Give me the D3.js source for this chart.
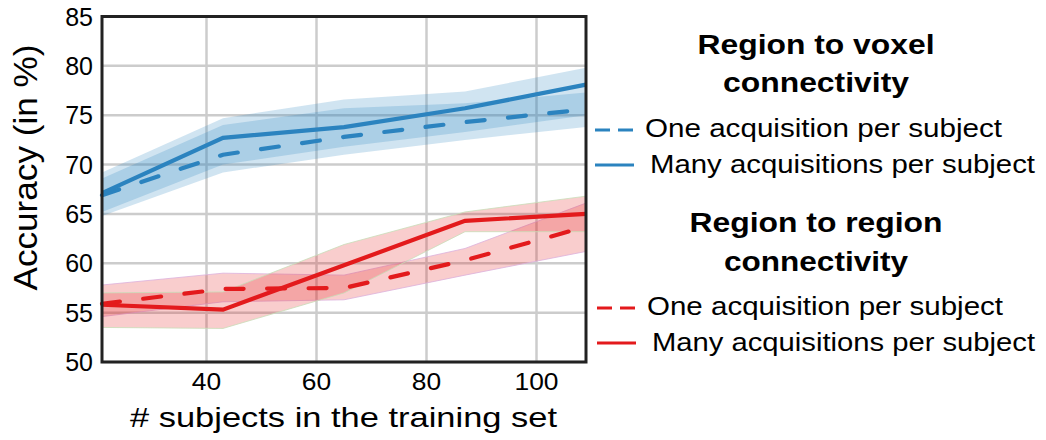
<!DOCTYPE html>
<html>
<head>
<meta charset="utf-8">
<script src="https://cdn.jsdelivr.net/npm/d3@7"></script>
<style>
  body { margin: 0; background: #fff; }
  svg { font-family: "Liberation Sans", Arial, sans-serif; }
</style>
</head>
<body>
<div id="chart"></div>
<script>
// data
const subjects = [21, 43, 65, 87, 109];
const yTicks = [50, 55, 60, 65, 70, 75, 80, 85];
const xTicks = [40, 60, 80, 100];

// region to voxel
const voxelOne = [66.9, 71.0, 72.8, 74.3, 75.6];
const voxelOneLow = [64.8, 69.2, 71.0, 72.5, 73.8];
const voxelOneHigh = [68.6, 74.0, 75.7, 76.2, 77.3];
const voxelMany = [67.1, 72.7, 73.8, 75.7, 78.1];
const voxelManyLow = [65.2, 70.0, 71.8, 73.3, 75.0];
const voxelManyHigh = [69.2, 74.7, 76.6, 77.4, 79.8];

// region to region
const regionOne = [55.9, 57.4, 57.5, 60.3, 63.7];
const regionOneLow = [54.6, 56.1, 56.3, 58.8, 61.2];
const regionOneHigh = [57.8, 59.0, 58.8, 61.5, 66.1];
const regionMany = [55.8, 55.3, 59.8, 64.3, 65.0];
const regionManyLow = [53.5, 53.4, 57.0, 63.2, 63.2];
const regionManyHigh = [57.0, 57.1, 61.9, 65.2, 66.8];

const blue = '#2b83bf';
const red = '#e31a1c';

const W = 1046, H = 440;
const margin = {top: 16.5, left: 102, right: 460, bottom: 78};

const svg = d3.select('#chart').append('svg')
    .attr('width', W)
    .attr('height', H);

const x = d3.scaleLinear().domain([21, 109]).range([margin.left, W - margin.right]);
const y = d3.scaleLinear().domain([50, 85]).range([H - margin.bottom, margin.top]);

// the original figure is a bit wider than its fonts, so text gets stretched sideways
function widen(sel, sx) {
  sel.each(function() {
    const len = this.getComputedTextLength();
    d3.select(this).attr('textLength', len * sx).attr('lengthAdjust', 'spacingAndGlyphs');
  });
}

// grid
svg.append('g').selectAll('line')
    .data(xTicks)
  .join('line')
    .attr('x1', d => x(d)).attr('x2', d => x(d))
    .attr('y1', y(85)).attr('y2', y(50))
    .attr('stroke', '#cccccc').attr('stroke-width', 2.5);
svg.append('g').selectAll('line')
    .data(yTicks)
  .join('line')
    .attr('x1', x(21)).attr('x2', x(109))
    .attr('y1', d => y(d)).attr('y2', d => y(d))
    .attr('stroke', '#cccccc').attr('stroke-width', 2.5);

const area = d3.area()
    .x(d => x(d[0]))
    .y0(d => y(d[1]))
    .y1(d => y(d[2]));
const line = d3.line()
    .x(d => x(d[0]))
    .y(d => y(d[1]));

function band(low, high, color, edge) {
  svg.append('path')
      .datum(subjects.map((s, i) => [s, low[i], high[i]]))
      .attr('d', area)
      .attr('fill', color)
      .attr('fill-opacity', 0.22)
      .attr('stroke', edge || 'none')
      .attr('stroke-width', 0.8);
}
function curve(vals, color, dashed) {
  svg.append('path')
      .datum(subjects.map((s, i) => [s, vals[i]]))
      .attr('d', line)
      .attr('fill', 'none')
      .attr('stroke', color)
      .attr('stroke-width', 4.2)
      .attr('stroke-linecap', dashed ? 'round' : 'butt')
      .attr('stroke-dasharray', dashed ? '18,23.5' : null);
}

band(voxelOneLow, voxelOneHigh, blue);
band(voxelManyLow, voxelManyHigh, blue);
band(regionOneLow, regionOneHigh, red, '#dcb0dc');
band(regionManyLow, regionManyHigh, red, '#c8ddb8');

curve(voxelOne, blue, true);
curve(voxelMany, blue, false);
curve(regionOne, red, true);
curve(regionMany, red, false);

// frame
svg.append('rect')
    .attr('x', x(21)).attr('y', y(85))
    .attr('width', x(109) - x(21))
    .attr('height', y(50) - y(85))
    .attr('fill', 'none')
    .attr('stroke', '#222').attr('stroke-width', 3);

// tick labels
svg.append('g').selectAll('text')
    .data(yTicks)
  .join('text')
    .attr('x', x(21) - 9)
    .attr('y', d => y(d))
    .attr('dy', '0.36em')
    .attr('text-anchor', 'end')
    .attr('font-size', 25)
    .text(d => d);
svg.append('g').selectAll('text')
    .data(xTicks)
  .join('text')
    .attr('x', d => x(d))
    .attr('y', 390)
    .attr('text-anchor', 'middle')
    .attr('font-size', 24)
    .text(d => d)
    .call(widen, 1.1);

svg.append('text')
    .attr('x', 343.5).attr('y', 427)
    .attr('text-anchor', 'middle')
    .attr('font-size', 28)
    .text('# subjects in the training set')
    .attr('textLength', 427)
    .attr('lengthAdjust', 'spacingAndGlyphs');
svg.append('text')
    .attr('transform', 'translate(37,167.5) rotate(-90)')
    .attr('text-anchor', 'middle')
    .attr('font-size', 34)
    .attr('textLength', 246)
    .attr('lengthAdjust', 'spacingAndGlyphs')
    .text('Accuracy (in %)');

// legend
const legendGroups = [
  {title: ['Region to voxel', 'connectivity'], widths: [237, 186], color: blue,
   ty: [54, 92], ly: [130, 165], tx: [645, 650], tw: [357, 385], lx: 595},
  {title: ['Region to region', 'connectivity'], widths: [253, 184], color: red,
   ty: [232, 271], ly: [308, 343], tx: [647, 652], tw: [356, 383], lx: 597}
];
legendGroups.forEach(g => {
  g.title.forEach((t, i) => {
    svg.append('text')
        .attr('x', 816).attr('y', g.ty[i])
        .attr('text-anchor', 'middle')
        .attr('font-size', 27)
        .attr('font-weight', 'bold')
        .attr('textLength', g.widths[i])
        .attr('lengthAdjust', 'spacingAndGlyphs')
        .text(t);
  });
  svg.append('line')
      .attr('x1', g.lx).attr('x2', g.lx + 39)
      .attr('y1', g.ly[0]).attr('y2', g.ly[0])
      .attr('stroke', g.color).attr('stroke-width', 3)
      .attr('stroke-dasharray', '15,8');
  svg.append('line')
      .attr('x1', g.lx).attr('x2', g.lx + 39)
      .attr('y1', g.ly[1]).attr('y2', g.ly[1])
      .attr('stroke', g.color).attr('stroke-width', 3);
  svg.append('text')
      .attr('x', g.tx[0]).attr('y', g.ly[0] + 7)
      .attr('font-size', 26)
      .attr('textLength', g.tw[0])
      .attr('lengthAdjust', 'spacingAndGlyphs')
      .text('One acquisition per subject');
  svg.append('text')
      .attr('x', g.tx[1]).attr('y', g.ly[1] + 8)
      .attr('font-size', 26)
      .attr('textLength', g.tw[1])
      .attr('lengthAdjust', 'spacingAndGlyphs')
      .text('Many acquisitions per subject');
});
</script>
</body>
</html>
